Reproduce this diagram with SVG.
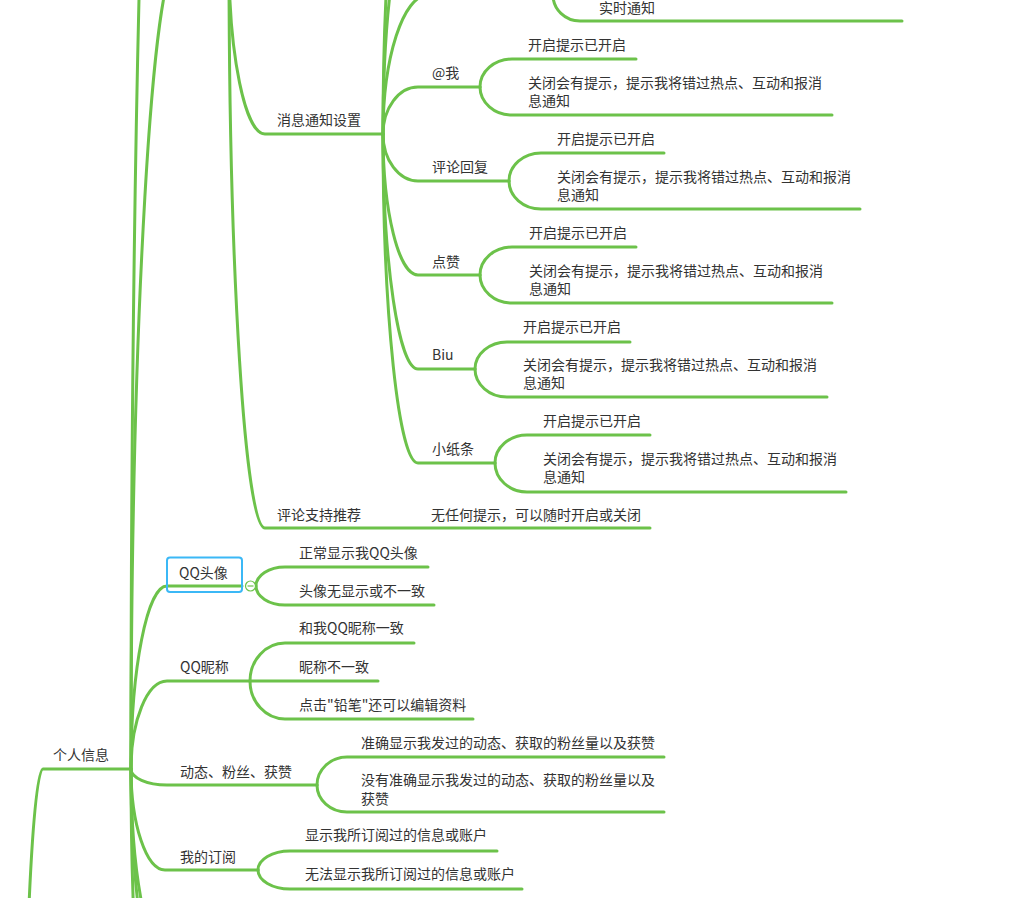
<svg xmlns="http://www.w3.org/2000/svg" width="1014" height="898" viewBox="0 0 1014 898">
<style>
.l{fill:none;stroke:#6cc24a;stroke-width:3;stroke-linecap:round}
.t{font-family:"Noto Sans CJK SC","Noto Sans",sans-serif;font-size:14px;fill:#333}
</style>
<rect width="1014" height="898" fill="#fff"/>
<g id="connectors">
<path class="l" d="M131 769 C131 71 148.5 -500 170 -500"/>
<path class="l" d="M131 769 C131 324 152.2 -40 178 -40 L229 -40"/>
<path class="l" d="M131 769 C131 668.4 147.2 586 167 586 L242 586"/>
<path class="l" d="M131 769 C131 720.6 147.2 681 167 681 L378 681"/>
<path class="l" d="M131 769 C131 777.8 147.2 785 167 785 L317 785"/>
<path class="l" d="M131 769 C131 824.6 146.3 870 165 870 L258 870"/>
<path class="l" d="M131 769 C131 874 147.6 960 168 960"/>
<path class="l" d="M131 769 C131 896 147.6 1000 168 1000"/>
<path class="l" d="M131 769 C131 978.6 147.6 1150 168 1150"/>
<path class="l" d="M22 1300 C22 1008 31.45 769 43 769 L131 769"/>
<path class="l" d="M229 -40 C229 55.7 245.2 134 265 134 L383 134"/>
<path class="l" d="M229 -40 C229 272.4 245.2 528 265 528 L650 528"/>
<path class="l" d="M383 134 C383 57.55 403.25 -5 428 -5 L553 -5"/>
<path class="l" d="M553 -5 C553 9.3 565.2 21 580 21 L902 21"/>
<path class="l" d="M383 134 C383 5.3 398.75 -100 418 -100"/>
<path class="l" d="M383 134 C383 -49.7 398.75 -200 418 -200"/>
<path class="l" d="M383 134 C383 108.15 398.75 87 418 87 L480 87"/>
<path class="l" d="M383 134 C383 159.85 398.75 181 418 181 L509 181"/>
<path class="l" d="M383 134 C383 211.55 398.75 275 418 275 L480 275"/>
<path class="l" d="M383 134 C383 263.25 398.75 369 418 369 L475 369"/>
<path class="l" d="M383 134 C383 314.95 398.75 463 418 463 L495 463"/>
<path class="l" d="M480 87 C480 71.6 494.4 59 512 59 L636 59"/>
<path class="l" d="M480 87 C480 102.4 494.4 115 512 115 L832 115"/>
<path class="l" d="M509 181 C509 165.6 523.4 153 541 153 L664 153"/>
<path class="l" d="M509 181 C509 196.4 523.4 209 541 209 L860 209"/>
<path class="l" d="M480 275 C480 259.6 494.4 247 512 247 L636 247"/>
<path class="l" d="M480 275 C480 290.4 494.4 303 512 303 L832 303"/>
<path class="l" d="M475 369 C475 354.15 489.4 342 507 342 L630 342"/>
<path class="l" d="M475 369 C475 384.4 489.4 397 507 397 L827 397"/>
<path class="l" d="M495 463 C495 447.6 509.4 435 527 435 L650 435"/>
<path class="l" d="M495 463 C495 479 509.4 492 527 492 L846 492"/>
<path class="l" d="M256 586 C256 575.55 269.05 567 285 567 L428 567"/>
<path class="l" d="M256 586 C256 596.45 269.05 605 285 605 L434 605"/>
<path class="l" d="M250 681 C250 660.1 265.75 643 285 643 L414 643"/>
<path class="l" d="M250 681 C250 701.9 265.75 719 285 719 L473 719"/>
<path class="l" d="M317 785 C317 769.6 330.5 757 347 757 L664 757"/>
<path class="l" d="M317 785 C317 799.85 330.5 812 347 812 L664 812"/>
<path class="l" d="M258 870 C258 859.55 272.4 851 290 851 L497 851"/>
<path class="l" d="M258 870 C258 880.45 272.4 889 290 889 L522 889"/>
</g>
<g id="n-shishi"><text class="t" x="599" y="13">实时通知</text></g>
<g id="n-xiaoxi"><text class="t" x="277" y="125">消息通知设置</text></g>
<g id="n-atme"><text class="t" x="432" y="78">@我</text></g>
<g id="n-atme-on"><text class="t" x="528" y="50">开启提示已开启</text></g>
<g id="n-atme-off"><text class="t" x="528" y="88">关闭会有提示，提示我将错过热点、互动和报消</text><text class="t" x="528" y="106">息通知</text></g>
<g id="n-pinglun"><text class="t" x="432" y="172">评论回复</text></g>
<g id="n-pinglun-on"><text class="t" x="557" y="144">开启提示已开启</text></g>
<g id="n-pinglun-off"><text class="t" x="557" y="182">关闭会有提示，提示我将错过热点、互动和报消</text><text class="t" x="557" y="200">息通知</text></g>
<g id="n-dianzan"><text class="t" x="432" y="267">点赞</text></g>
<g id="n-dianzan-on"><text class="t" x="529" y="238">开启提示已开启</text></g>
<g id="n-dianzan-off"><text class="t" x="529" y="276">关闭会有提示，提示我将错过热点、互动和报消</text><text class="t" x="529" y="294">息通知</text></g>
<g id="n-biu"><text class="t" x="432" y="360">Biu</text></g>
<g id="n-biu-on"><text class="t" x="523" y="332">开启提示已开启</text></g>
<g id="n-biu-off"><text class="t" x="523" y="370">关闭会有提示，提示我将错过热点、互动和报消</text><text class="t" x="523" y="388">息通知</text></g>
<g id="n-zhitiao"><text class="t" x="432" y="454">小纸条</text></g>
<g id="n-zhitiao-on"><text class="t" x="543" y="426">开启提示已开启</text></g>
<g id="n-zhitiao-off"><text class="t" x="543" y="464">关闭会有提示，提示我将错过热点、互动和报消</text><text class="t" x="543" y="482">息通知</text></g>
<g id="n-tuijian"><text class="t" x="277" y="520">评论支持推荐</text></g>
<g id="n-tuijian-c"><text class="t" x="431" y="520">无任何提示，可以随时开启或关闭</text></g>
<g id="n-touxiang">
<rect x="167" y="557.5" width="75" height="34.5" rx="3" fill="none" stroke="#3bb8f6" stroke-width="2"/>
<text class="t" x="179" y="578">QQ头像</text>
<circle cx="250.5" cy="586" r="5" fill="#fff" stroke="#6cc24a" stroke-width="1.2"/>
<line x1="247.5" y1="586" x2="253.5" y2="586" stroke="#6cc24a" stroke-width="1.2"/>
</g>
<g id="n-touxiang-1"><text class="t" x="299" y="558">正常显示我QQ头像</text></g>
<g id="n-touxiang-2"><text class="t" x="299" y="596">头像无显示或不一致</text></g>
<g id="n-nicheng"><text class="t" x="180" y="672">QQ昵称</text></g>
<g id="n-nicheng-1"><text class="t" x="299" y="633">和我QQ昵称一致</text></g>
<g id="n-nicheng-2"><text class="t" x="299" y="672">昵称不一致</text></g>
<g id="n-nicheng-3"><text class="t" x="299" y="710">点击&quot;铅笔&quot;还可以编辑资料</text></g>
<g id="n-geren"><text class="t" x="53" y="760">个人信息</text></g>
<g id="n-dongtai"><text class="t" x="180" y="777">动态、粉丝、获赞</text></g>
<g id="n-dongtai-1"><text class="t" x="361" y="748">准确显示我发过的动态、获取的粉丝量以及获赞</text></g>
<g id="n-dongtai-2"><text class="t" x="361" y="785">没有准确显示我发过的动态、获取的粉丝量以及</text><text class="t" x="361" y="804">获赞</text></g>
<g id="n-dingyue"><text class="t" x="180" y="862">我的订阅</text></g>
<g id="n-dingyue-1"><text class="t" x="305" y="840">显示我所订阅过的信息或账户</text></g>
<g id="n-dingyue-2"><text class="t" x="305" y="879">无法显示我所订阅过的信息或账户</text></g>
</svg>
